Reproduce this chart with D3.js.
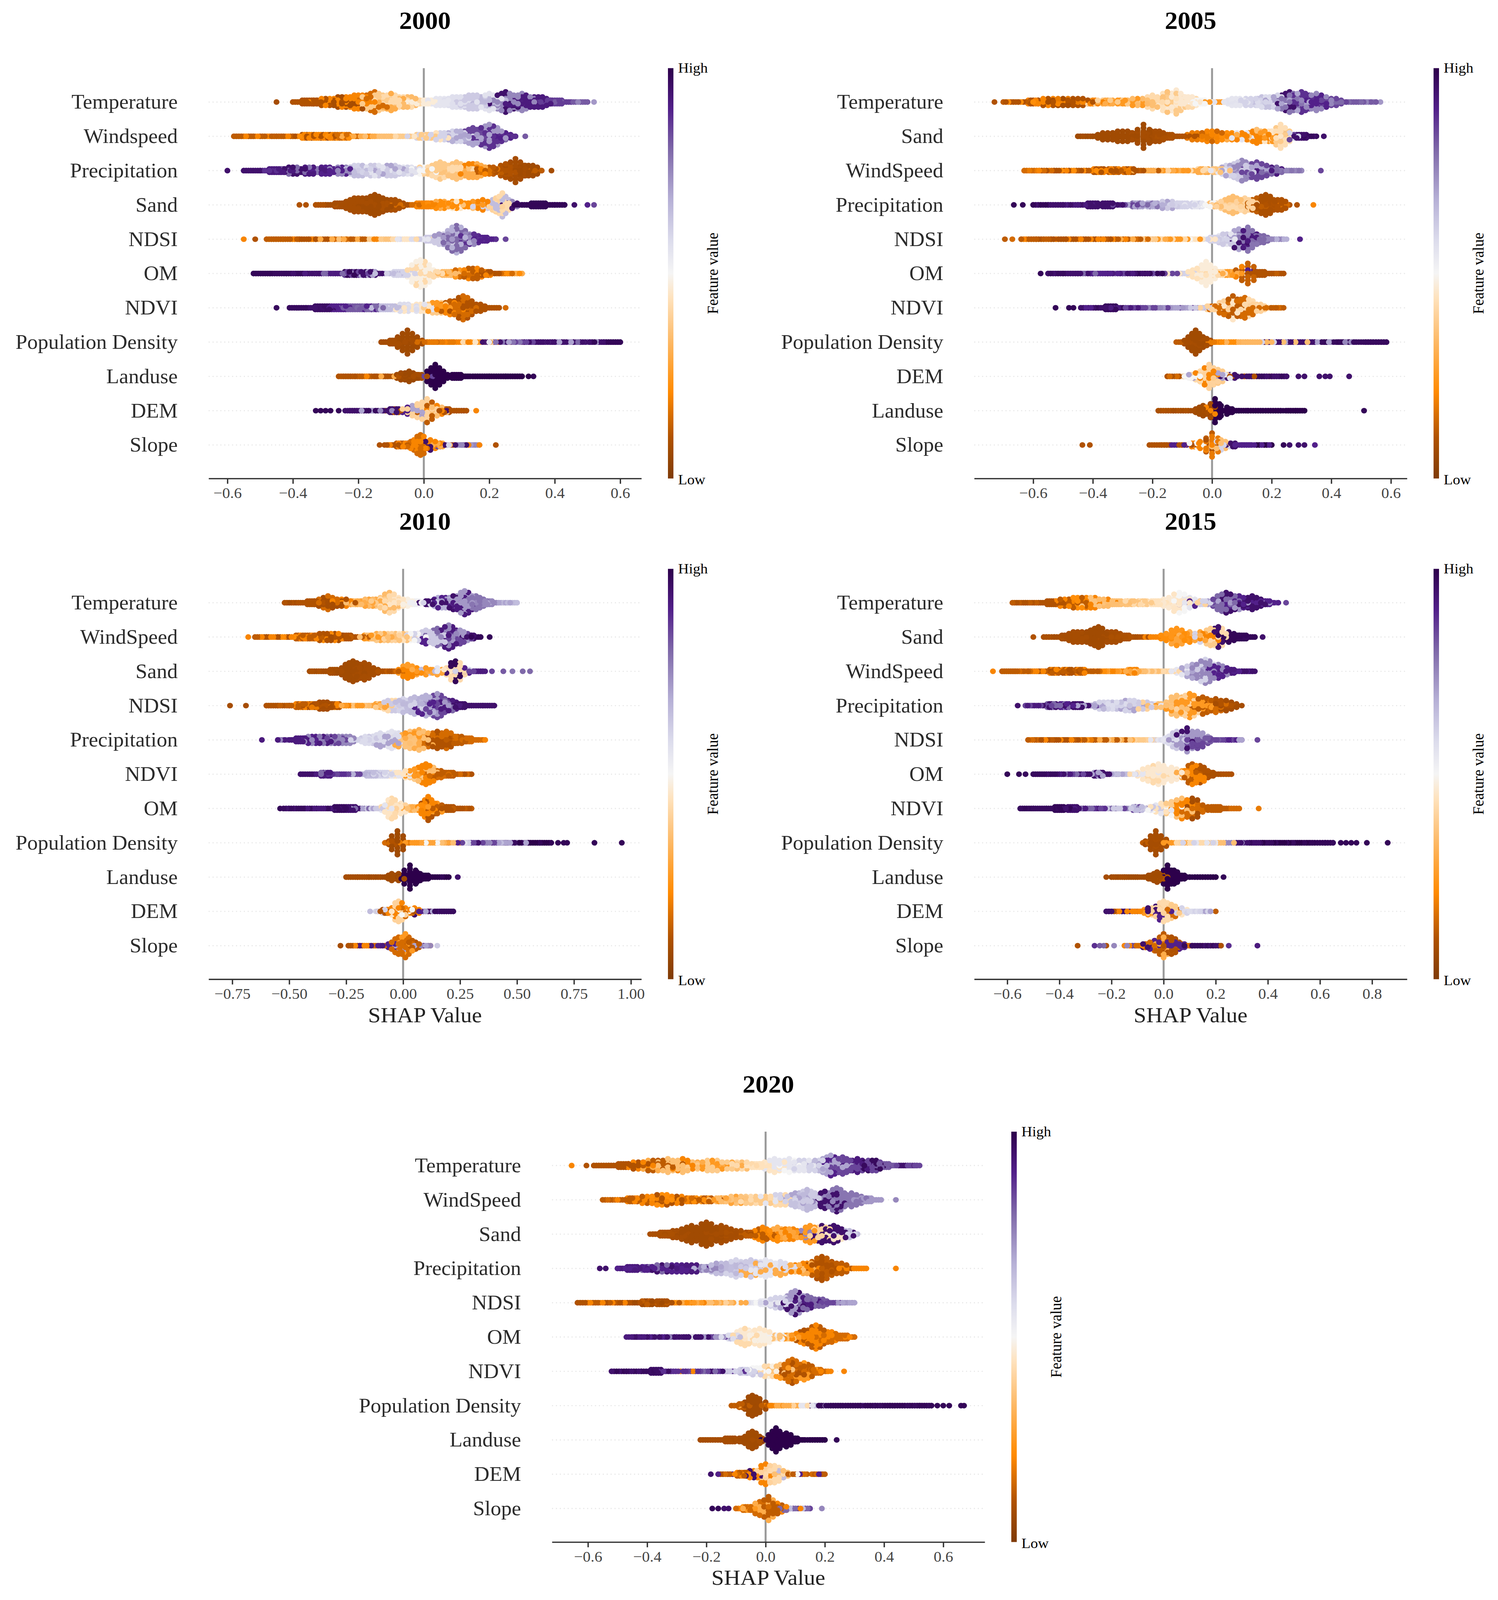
<!DOCTYPE html>
<html>
<head>
  <meta charset="utf-8">
  <title>SHAP summary plots 2000-2020</title>
  <script src="https://d3js.org/d3.v7.min.js"></script>
  <style>
    html, body { margin: 0; height: 100%; background: #fff; overflow: hidden; }
    svg { display: block; width: 100vw; height: 100vh; }
    text { font-family: "Liberation Serif", serif; }
  </style>
</head>
<body>
  <svg id="chart" viewBox="0 0 3835 4250" preserveAspectRatio="none"></svg>
  <script>
// feature order in each year
const labels2000 = ["Temperature", "Windspeed", "Precipitation", "Sand", "NDSI", "OM", "NDVI", "Population Density", "Landuse", "DEM", "Slope"];
const labels2005 = ["Temperature", "Sand", "WindSpeed", "Precipitation", "NDSI", "OM", "NDVI", "Population Density", "DEM", "Landuse", "Slope"];
const labels2010 = ["Temperature", "WindSpeed", "Sand", "NDSI", "Precipitation", "NDVI", "OM", "Population Density", "Landuse", "DEM", "Slope"];
const labels2015 = ["Temperature", "Sand", "WindSpeed", "Precipitation", "NDSI", "OM", "NDVI", "Population Density", "Landuse", "DEM", "Slope"];
const labels2020 = ["Temperature", "WindSpeed", "Sand", "Precipitation", "NDSI", "OM", "NDVI", "Population Density", "Landuse", "DEM", "Slope"];

// swarm rows: [shap, stack height in dots (0 = lone point), feature value, optional second feature value]
const swarm2000 = [
  [[-.45,0,.08],[-.4,1,.1],[-.35,2,.1],[-.3,3,.1,.2],[-.25,4,.08,.2],[-.2,5,.2,.08],[-.15,7,.38,.15],[-.1,6,.42,.3],[-.05,4,.34,.42],[0,2,.47],[.05,3,.55],[.1,4,.57],[.15,5,.62],[.2,6,.66,.56],[.25,7,.75,.95],[.3,6,.92,.75],[.35,4,.92],[.4,2,.86],[.45,1,.82],[.5,1,.75],[.52,0,.72]],
  [[-.58,1,.1],[-.55,1,.12],[-.5,1,.12,.2],[-.45,1,.12,.2],[-.4,1,.22,.1],[-.35,2,.2,.1],[-.3,2,.2,.1],[-.25,2,.15,.22],[-.2,1,.3,.2],[-.15,1,.35],[-.1,1,.38,.42],[-.05,1,.38,.45],[0,2,.38,.6],[.05,3,.6,.44],[.1,4,.68,.6],[.15,6,.7,.85],[.2,8,.88,.72],[.25,3,.9,.8],[.28,1,.88],[.31,0,.82]],
  [[-.6,0,.95],[-.55,1,.95],[-.5,1,.88],[-.45,2,.92],[-.4,3,.95,.8],[-.35,3,.92,.78],[-.3,3,.9],[-.25,3,.75,.9],[-.2,4,.65,.6],[-.15,4,.62,.56],[-.1,4,.62,.7],[-.05,3,.56,.6],[0,3,.5,.4],[.05,6,.38,.42],[.1,6,.36,.42],[.15,5,.3,.2],[.2,3,.12,.16],[.25,5,.1],[.28,8,.08],[.32,4,.07],[.36,1,.12],[.39,0,.08]],
  [[-.38,0,.1],[-.36,0,.1],[-.33,1,.1],[-.3,1,.1],[-.25,2,.08],[-.2,5,.08],[-.15,7,.07],[-.1,4,.09],[-.05,1,.15],[0,2,.2],[.05,3,.22,.3],[.1,3,.22,.45],[.15,3,.25,.36],[.18,4,.2,.6],[.22,5,.4,.65],[.24,8,.42,.65],[.27,3,.75,.95],[.3,1,.98],[.35,2,.98],[.4,1,.98],[.43,1,.98],[.46,0,.95],[.5,0,.9],[.52,0,.85]],
  [[-.55,0,.2],[-.515,0,.1],[-.48,1,.12],[-.43,1,.12,.2],[-.38,1,.1,.2],[-.33,1,.1,.3],[-.28,1,.15,.35],[-.23,1,.12,.3],[-.18,1,.38,.2],[-.13,1,.36,.42],[-.08,1,.45,.58],[-.03,1,.55,.42],[.02,2,.62],[.06,4,.72,.62],[.1,9,.8,.68],[.14,4,.88,.75],[.18,2,.9],[.22,1,.88],[.25,0,.85]],
  [[-.52,1,.98],[-.47,1,.97],[-.42,1,.97],[-.37,1,.95],[-.32,1,.92,.8],[-.27,1,.92,.8],[-.22,2,.98,.85],[-.17,2,.95,.7],[-.12,1,.65],[-.07,2,.6],[-.01,9,.48,.42],[.03,2,.42],[.07,2,.34],[.11,3,.15,.25],[.15,4,.12,.2],[.19,2,.1,.2],[.23,1,.15],[.27,1,.22],[.3,1,.3]],
  [[-.45,0,.97],[-.41,1,.97],[-.36,1,.95],[-.31,2,.96],[-.26,2,.9],[-.21,2,.82],[-.16,2,.8,.9],[-.11,2,.65],[-.06,3,.58,.45],[-.01,3,.45,.56],[.04,4,.38,.25],[.08,5,.2,.12],[.12,8,.15,.1],[.16,3,.1],[.2,1,.1],[.23,1,.1],[.25,0,.15]],
  [[-.13,1,.08],[-.09,2,.08],[-.05,8,.07],[-.02,3,.08],[.01,1,.15],[.05,1,.18],[.1,1,.2],[.15,1,.22,.42],[.18,1,.45,.25],[.22,1,.95,.55],[.26,1,.78,.25],[.3,1,.85,.7],[.35,1,.95],[.4,1,.95,.7],[.45,1,.95,.8],[.5,1,.95,.72],[.55,1,.98],[.6,1,.97]],
  [[-.26,1,.1],[-.21,1,.12,.2],[-.16,1,.1],[-.11,1,.1,.3],[-.07,3,.07],[-.045,4,.06],[-.015,2,.08],[.01,1,.85],[.035,8,1],[.06,3,1],[.1,2,1],[.15,1,1],[.2,1,1],[.25,1,1],[.3,1,1],[.32,0,1],[.335,0,.98]],
  [[-.33,0,.98],[-.315,0,.98],[-.3,0,.98],[-.285,0,.98],[-.26,0,.98],[-.24,1,.95],[-.19,1,.97,.7],[-.14,1,.95,.75],[-.09,2,.95,.1],[-.05,3,.9,.4],[-.02,5,.4,.7],[.01,8,.4,.12],[.04,4,.35,.2],[.07,2,.1],[.1,1,.1,.95],[.13,1,.1],[.16,0,.2]],
  [[-.135,0,.1],[-.12,1,.1],[-.07,2,.12,.2],[-.03,4,.15,.2],[-.01,7,.15,.2],[.02,4,.2,.95],[.05,2,.3,.85],[.09,1,.95,.6],[.13,1,.75,.2],[.17,1,.72],[.22,0,.1]]
];
const swarm2005 = [
  [[-.73,0,.1],[-.7,1,.1],[-.65,1,.12,.22],[-.6,2,.1,.2],[-.55,3,.1,.2],[-.5,3,.08,.18],[-.45,3,.1],[-.4,2,.2,.4],[-.35,2,.3,.38],[-.3,2,.25,.38],[-.25,3,.34,.25],[-.2,5,.42,.35],[-.15,7,.44,.36],[-.12,8,.46,.38],[-.08,4,.46,.42],[-.04,2,.5],[0,1,.25],[.04,1,.56],[.08,3,.55],[.13,3,.6],[.18,4,.64,.58],[.22,5,.7,.6],[.26,7,.78,.95],[.3,7,.88,.7],[.35,6,.9,.75],[.4,3,.85],[.45,1,.8],[.5,1,.82],[.55,1,.75],[.565,0,.72]],
  [[-.45,1,.08],[-.4,1,.07],[-.35,3,.07],[-.3,4,.07],[-.25,4,.08],[-.23,8,.07],[-.19,4,.08],[-.15,2,.09],[-.1,1,.1],[-.085,0,.15],[-.05,3,.18],[0,4,.2,.14],[.05,3,.22,.3],[.1,3,.2,.55],[.15,5,.2,.35],[.19,4,.25,.45],[.23,8,.43,.38],[.26,3,.85,.6],[.3,2,.95],[.35,1,.97],[.375,0,.95]],
  [[-.63,1,.18],[-.58,1,.15],[-.53,1,.1,.2],[-.48,1,.1,.22],[-.43,1,.12,.22],[-.38,2,.1,.2],[-.33,2,.12,.2],[-.28,2,.1,.18],[-.23,1,.12,.3],[-.18,1,.3,.4],[-.13,1,.25,.4],[-.08,1,.3,.42],[-.03,2,.3,.42],[.02,2,.36,.55],[.06,4,.6,.7],[.1,7,.62,.75],[.15,6,.85,.7],[.2,3,.8,.92],[.25,1,.78],[.3,1,.75],[.365,0,.85]],
  [[-.665,0,.98],[-.635,0,.98],[-.6,1,.98],[-.55,1,.95],[-.5,1,.95],[-.45,1,.92],[-.4,2,.95],[-.35,2,.95],[-.3,1,.85],[-.25,2,.7,.8],[-.2,2,.68,.78],[-.15,3,.62,.7],[-.1,2,.6],[-.05,2,.55,.6],[0,2,.5,.35],[.03,3,.4],[.07,6,.35,.42],[.11,5,.4],[.15,5,.12],[.18,7,.09],[.22,4,.1],[.26,1,.15],[.285,0,.1],[.34,0,.2]],
  [[-.695,0,.12],[-.67,0,.15],[-.64,1,.12],[-.59,1,.12,.2],[-.54,1,.1,.15],[-.49,1,.1,.2],[-.44,1,.1,.2],[-.39,1,.1,.2],[-.34,1,.12,.2],[-.29,1,.12,.3],[-.24,1,.15,.38],[-.19,1,.25,.4],[-.14,1,.3,.42],[-.09,1,.25,.44],[-.04,1,.45,.5],[.01,2,.6],[.05,4,.62,.55],[.09,7,.7,.95],[.12,8,.78,.92],[.16,3,.8],[.2,1,.75],[.25,1,.68],[.295,0,.9]],
  [[-.575,0,.98],[-.55,1,.97],[-.5,1,.95],[-.45,1,.95],[-.4,1,.9,.8],[-.35,1,.9],[-.3,1,.92,.8],[-.25,1,.95,.85],[-.2,1,.98],[-.15,1,.85,.7],[-.1,1,.6,.45],[-.05,4,.44],[-.02,8,.47],[.02,2,.42],[.06,2,.25,.3],[.1,5,.12,.2],[.12,7,.13,.9],[.16,2,.1],[.2,1,.1],[.24,1,.12]],
  [[-.525,0,.98],[-.48,0,.98],[-.465,0,.98],[-.44,1,.9],[-.39,1,.95],[-.34,2,.97],[-.29,1,.92],[-.24,1,.85],[-.19,1,.85,.75],[-.14,1,.72],[-.09,1,.7,.85],[-.04,1,.62],[0,2,.4,.15],[.04,5,.15,.4],[.07,8,.12,.45],[.11,7,.15,.42],[.15,3,.4],[.19,1,.15],[.24,1,.12]],
  [[-.12,1,.12],[-.08,3,.08],[-.055,8,.07],[-.03,4,.08],[0,1,.18],[.04,1,.22],[.08,1,.32],[.12,1,.33],[.16,1,.33],[.19,0,.95],[.2,1,.95,.6],[.24,1,.95,.7],[.28,1,.95,.35],[.32,1,.95,.6],[.36,1,.98,.7],[.4,1,.97],[.44,1,.98],[.46,1,.75],[.5,1,.97],[.55,1,.97],[.585,1,.97]],
  [[-.15,1,.1],[-.11,1,.15,.5],[-.07,2,.5,.7],[-.04,4,.42,.2],[-.01,8,.4,.2],[.02,5,.38,.7],[.06,2,.55,.95],[.1,1,.95,.1],[.15,1,.95,.1],[.2,1,.97],[.25,1,.95],[.29,0,.95],[.31,0,.95],[.36,0,.95],[.38,0,.95],[.395,0,.95],[.46,0,.95]],
  [[-.18,1,.1],[-.13,1,.09],[-.08,1,.08],[-.03,4,.07],[-.005,5,.08,.2],[.01,8,1],[.03,4,1],[.06,2,1],[.09,1,1],[.12,0,1],[.13,1,1],[.18,1,1],[.23,1,1],[.28,1,1],[.31,1,1],[.51,0,.98]],
  [[-.435,0,.1],[-.41,0,.1],[-.21,1,.1],[-.17,0,.1],[-.14,0,.1],[-.11,1,.9,.1],[-.06,2,.2,.5],[-.02,4,.2,.1],[0,8,.18,.12],[.03,4,.35,.6],[.07,2,.95,.6],[.1,1,.9],[.15,1,.9],[.2,1,1],[.24,0,.98],[.26,0,.95],[.29,0,.95],[.31,0,.95],[.345,0,.9]]
];
const swarm2010 = [
  [[-.52,1,.08],[-.46,1,.1],[-.4,2,.1],[-.33,5,.08,.15],[-.27,3,.1,.2],[-.21,2,.3,.35],[-.15,3,.34,.28],[-.1,4,.38,.3],[-.06,7,.42,.34],[-.02,4,.45],[.02,3,.48],[.06,2,.52],[.12,2,.95,.6],[.17,4,.68,.9],[.22,5,.72,.95],[.27,8,.72,.92],[.32,5,.78],[.37,2,.75],[.42,1,.7],[.47,1,.66],[.5,1,.65]],
  [[-.68,0,.2],[-.65,1,.12],[-.6,1,.12,.2],[-.55,1,.1,.2],[-.5,1,.12,.22],[-.45,2,.12,.2],[-.4,2,.12,.2],[-.35,3,.1,.22],[-.3,3,.08,.2],[-.25,2,.1],[-.2,1,.12],[-.15,2,.35,.25],[-.1,3,.38,.3],[-.05,3,.4,.35],[0,3,.44,.36],[.05,3,.5,.6],[.1,5,.62,.9],[.15,6,.62,.8],[.2,8,.92,.75],[.25,5,.85,.72],[.3,2,.95],[.34,1,.98],[.38,0,.98]],
  [[-.41,1,.08],[-.36,1,.09],[-.31,2,.08],[-.27,3,.07],[-.22,7,.07],[-.17,6,.08],[-.13,3,.08],[-.09,1,.1],[-.05,1,.12],[-.02,1,.15],[.02,5,.2,.26],[.06,3,.22,.3],[.1,3,.25,.65],[.15,3,.28,.55],[.19,2,.45,.95],[.23,7,.42,.98],[.27,3,.9,.6],[.31,1,.85],[.36,1,.92],[.39,0,.85],[.44,0,.82],[.48,0,.78],[.525,0,.8],[.557,0,.8]],
  [[-.76,0,.08],[-.69,0,.08],[-.6,1,.1],[-.55,1,.1],[-.5,1,.12,.2],[-.45,2,.12,.2],[-.4,2,.1,.18],[-.35,3,.08],[-.3,2,.1,.2],[-.25,1,.2,.3],[-.2,1,.25,.36],[-.15,1,.34,.25],[-.1,2,.38,.28],[-.05,4,.62,.42],[0,5,.65,.6],[.05,6,.66,.6],[.1,7,.68,.9],[.15,8,.85,.72],[.2,4,.92,.8],[.25,2,.95],[.3,1,.95],[.35,1,.95],[.4,1,.95]],
  [[-.62,0,.92],[-.55,1,.75],[-.5,1,.92],[-.45,2,.92],[-.4,3,.9,.75],[-.35,3,.92,.78],[-.3,3,.85,.75],[-.25,3,.75],[-.2,1,.6],[-.15,3,.58,.62],[-.1,5,.58,.7],[-.05,6,.56,.7],[-.02,5,.58,.3],[.03,6,.36,.25],[.07,7,.35,.3],[.11,5,.3,.15],[.15,6,.1,.15],[.19,6,.1,.15],[.24,3,.12],[.29,2,.15],[.33,1,.15],[.36,1,.2]],
  [[-.45,1,.95],[-.4,1,.95,.8],[-.34,2,.92,.8],[-.29,1,.88],[-.24,1,.85],[-.19,1,.68],[-.14,2,.65],[-.09,2,.6],[-.04,2,.45,.55],[.01,3,.44,.55],[.05,4,.25,.38],[.1,7,.2,.35],[.15,3,.15,.12],[.2,2,.12],[.25,1,.15],[.3,1,.1]],
  [[-.54,0,.98],[-.525,1,.95],[-.5,0,.98],[-.48,1,.97],[-.43,1,.97],[-.38,1,.93,.8],[-.33,1,.93],[-.28,2,.97],[-.23,2,.95],[-.18,1,.8,.7],[-.12,1,.62],[-.08,3,.55,.42],[-.05,7,.42,.45],[-.01,4,.45,.4],[.04,2,.35,.3],[.08,3,.22],[.11,8,.2,.1],[.15,4,.12,.25],[.2,2,.1],[.25,1,.12],[.3,1,.1]],
  [[-.08,1,.15],[-.05,2,.1],[-.025,8,.07],[0,1,.18],[.05,1,.25],[.1,1,.28],[.15,1,.32,.5],[.2,1,.35,.28],[.25,1,.55,.9],[.3,1,.85,.6],[.35,1,.75,.95],[.4,1,.85,.65],[.45,1,.7,.95],[.5,1,.97,.7],[.55,1,1],[.6,1,1],[.65,1,.98],[.68,0,.98],[.705,0,.98],[.72,0,.98],[.84,0,.98],[.96,0,.98]],
  [[-.25,1,.08],[-.2,1,.08],[-.15,1,.08],[-.1,1,.07],[-.05,3,.07],[-.02,3,.07],[.005,2,1],[.03,8,1],[.06,4,1],[.1,2,1],[.15,1,1],[.2,1,.98],[.24,0,.95]],
  [[-.145,0,.65],[-.12,1,.6,.1],[-.08,2,.1,.6],[-.05,3,.2,.45],[-.02,7,.4,.2],[.01,4,.5,.15],[.05,3,.2,.95],[.09,1,.9,.1],[.13,1,.7,.95],[.18,1,.97],[.22,1,.97]],
  [[-.275,0,.08],[-.24,1,.1],[-.19,1,.1,.2],[-.14,1,.92,.2],[-.09,1,.15,.9],[-.05,3,.9,.15],[-.02,6,.15,.7],[.01,8,.15,.25],[.04,4,.12,.1],[.08,1,.12,.7],[.12,1,.75,.9],[.15,0,.62]]
];
const swarm2015 = [
  [[-.58,1,.1],[-.53,1,.12],[-.48,1,.1],[-.43,2,.1],[-.38,3,.12,.2],[-.33,4,.22,.12],[-.28,4,.2,.36],[-.23,3,.34,.2],[-.18,2,.35],[-.13,2,.36,.42],[-.08,2,.38,.42],[-.03,2,.44],[.02,4,.46],[.06,7,.45,.5],[.1,4,.55,.9],[.15,2,.6,.4],[.19,3,.85,.7],[.24,7,.8,.95],[.29,5,.9,.72],[.34,5,.95],[.39,2,.9],[.44,1,.75],[.47,0,.85]],
  [[-.5,0,.1],[-.46,1,.1],[-.42,1,.09],[-.38,2,.08],[-.33,4,.08],[-.28,5,.07],[-.25,7,.07],[-.2,4,.08],[-.15,2,.09],[-.1,1,.1],[-.08,0,.15],[-.03,1,.2],[.01,3,.22],[.05,6,.24,.28],[.1,4,.22,.32],[.14,4,.28,.6],[.18,6,.38,.2],[.21,7,.42,.95],[.25,4,.98],[.3,2,.98],[.35,1,.97],[.38,0,.95]],
  [[-.655,0,.2],[-.62,1,.12],[-.57,1,.12],[-.52,1,.15,.2],[-.47,1,.1,.2],[-.42,2,.12,.2],[-.37,2,.1,.2],[-.32,2,.12,.2],[-.27,1,.12,.22],[-.22,1,.25,.15],[-.17,1,.2,.28],[-.12,2,.2,.3],[-.07,1,.35],[-.02,1,.4],[.03,1,.42],[.07,3,.55,.7],[.11,5,.62,.7],[.16,8,.75,.6],[.21,5,.9,.75],[.26,2,.92],[.3,1,.9],[.35,1,.95]],
  [[-.56,0,.95],[-.53,1,.92],[-.48,1,.85],[-.43,2,.95,.8],[-.38,2,.9,.8],[-.33,2,.95],[-.28,1,.7,.85],[-.23,3,.6,.66],[-.18,3,.58,.64],[-.13,4,.6,.7],[-.08,3,.62,.4],[-.03,2,.55,.35],[.01,3,.36,.25],[.05,7,.35,.25],[.1,8,.25,.4],[.15,6,.12,.25],[.2,5,.15,.1],[.24,4,.08],[.28,1,.1],[.3,0,.08]],
  [[-.52,1,.15],[-.47,1,.12,.2],[-.42,1,.1],[-.37,1,.1,.2],[-.32,1,.12,.18],[-.27,1,.12,.25],[-.22,1,.3,.12],[-.17,1,.36,.12],[-.12,1,.38,.3],[-.07,1,.4],[-.02,1,.55,.6],[.02,3,.58],[.05,6,.62,.72],[.09,8,.72,.95],[.13,6,.85,.72],[.17,2,.82],[.22,1,.85],[.27,1,.9],[.3,1,.7],[.36,0,.85]],
  [[-.6,0,.98],[-.555,0,.98],[-.53,0,.97],[-.5,1,.97],[-.45,1,.97],[-.4,1,.95],[-.35,1,.92,.8],[-.3,1,.95,.85],[-.25,2,.95,.7],[-.2,1,.95,.7],[-.15,1,.65,.55],[-.1,1,.55,.42],[-.06,5,.45,.55],[-.02,7,.46,.42],[.03,5,.46],[.07,3,.3],[.11,7,.12,.2],[.14,6,.1,.2],[.18,2,.09],[.22,1,.09],[.26,1,.1]],
  [[-.55,1,.98],[-.5,1,.97],[-.45,1,.97],[-.4,2,.98],[-.35,2,.95],[-.3,1,.92,.8],[-.25,1,.88,.8],[-.2,1,.85,.62],[-.15,1,.62,.75],[-.1,2,.65,.85],[-.05,2,.62,.5],[-.01,4,.44,.55],[.03,5,.38,.5],[.07,7,.2,.35],[.11,7,.15,.08],[.15,3,.12],[.2,2,.12],[.25,1,.12],[.29,1,.15],[.365,0,.18]],
  [[-.08,1,.12],[-.05,3,.08],[-.03,8,.08],[-.01,5,.09],[.01,1,.25],[.05,1,.3],[.1,1,.42,.6],[.15,1,.55,.42],[.2,1,.36,.6],[.24,1,.35,.55],[.28,1,.75],[.33,1,.95],[.38,1,.97],[.43,1,1],[.48,1,.97],[.53,1,1],[.58,1,.98],[.62,1,.98],[.65,1,.97],[.68,0,.98],[.7,0,.98],[.72,0,.98],[.74,0,.98],[.78,0,.98],[.86,0,.98]],
  [[-.22,0,.08],[-.2,1,.08],[-.15,1,.07],[-.1,1,.07],[-.05,2,.07],[-.025,4,.07],[0,2,.1],[.015,8,1],[.04,5,1],[.07,2,1],[.11,1,1],[.16,1,1],[.2,1,1],[.23,0,.98]],
  [[-.22,1,.95],[-.18,1,.95,.1],[-.14,1,.95,.2],[-.1,1,.2,.9],[-.06,3,.25,.95],[-.03,4,.4,.95],[0,7,.42,.9],[.03,5,.38,.15],[.07,3,.45,.6],[.11,1,.58],[.15,1,.6],[.18,1,.7],[.2,0,.12]],
  [[-.33,0,.1],[-.265,0,.88],[-.245,0,.82],[-.23,0,.8],[-.22,0,.1],[-.19,0,.75],[-.15,1,.75],[-.11,1,.2,.85],[-.07,2,.95,.15],[-.035,4,.15,.9],[0,8,.12,.3],[.03,6,.1,.9],[.07,2,.9,.12],[.11,1,.97,.15],[.15,1,.97],[.19,1,.95],[.22,1,.1],[.25,0,.88],[.36,0,.92]]
];
const swarm2020 = [
  [[-.655,0,.2],[-.605,0,.1],[-.58,1,.1],[-.53,1,.1],[-.48,2,.1],[-.43,3,.1,.2],[-.38,4,.12,.3],[-.33,5,.35,.12],[-.28,5,.35,.2],[-.23,3,.3,.38],[-.18,4,.38,.25],[-.13,3,.38,.3],[-.08,3,.42,.35],[-.03,2,.44],[.03,5,.45,.55],[.08,5,.55,.5],[.13,4,.6,.55],[.18,4,.66,.6],[.22,7,.7,.9],[.26,6,.85,.7],[.31,5,.92,.85],[.36,4,.97,.85],[.4,2,.82],[.45,1,.85],[.48,1,.95],[.52,1,.85]],
  [[-.55,1,.15],[-.5,1,.12],[-.45,2,.12,.2],[-.4,3,.2,.12],[-.35,4,.22,.1],[-.3,3,.2,.1],[-.25,2,.15,.22],[-.2,2,.12,.25],[-.15,2,.34,.25],[-.1,3,.36,.28],[-.05,3,.38,.42],[0,3,.38,.55],[.05,4,.42,.6],[.1,5,.64,.7],[.14,7,.62,.66],[.2,6,.95,.75],[.24,8,.78,.95],[.29,5,.78],[.34,2,.72],[.39,1,.72],[.44,0,.75]],
  [[-.39,1,.09],[-.34,2,.09],[-.3,3,.08],[-.25,6,.07],[-.2,8,.07],[-.15,6,.08],[-.1,3,.09],[-.05,2,.12],[-.01,5,.2,.12],[.04,5,.22,.3],[.08,4,.2,.28],[.12,3,.25,.1],[.15,6,.25,.75],[.19,6,.4,.95],[.23,6,.95,.45],[.27,3,.65,.95],[.31,1,.6]],
  [[-.56,0,.95],[-.54,0,.95],[-.5,1,.9],[-.45,2,.92],[-.4,2,.9,.8],[-.35,3,.95,.8],[-.3,3,.9],[-.25,3,.92],[-.2,2,.75,.68],[-.15,4,.65,.7],[-.1,6,.66,.6],[-.05,6,.62,.3],[0,6,.55,.3],[.05,5,.58,.3],[.1,3,.35,.2],[.14,4,.2,.3],[.19,8,.1,.12],[.24,4,.12],[.29,1,.2],[.34,1,.2],[.44,0,.2]],
  [[-.635,1,.1],[-.6,1,.1],[-.55,1,.12,.2],[-.5,1,.1,.2],[-.45,1,.1],[-.4,2,.07,.12],[-.35,2,.09],[-.3,1,.12,.22],[-.25,1,.25,.3],[-.2,1,.3,.2],[-.15,1,.35,.25],[-.1,1,.3,.4],[-.05,1,.5,.58],[0,2,.55],[.05,4,.6,.7],[.1,8,.72,.95],[.14,5,.8,.92],[.18,3,.82],[.22,1,.85],[.26,1,.72],[.3,1,.7]],
  [[-.47,1,.92],[-.435,0,.95],[-.4,1,.95],[-.35,1,.9,.75],[-.3,1,.95],[-.26,1,.95,.55],[-.21,1,.95],[-.16,1,.72,.85],[-.11,2,.58,.65],[-.07,6,.42,.46],[-.02,6,.48,.45],[.04,2,.52,.36],[.08,2,.35,.25],[.13,5,.2,.1],[.17,8,.2,.12],[.21,4,.15,.2],[.26,2,.15],[.3,1,.2]],
  [[-.52,1,.98],[-.47,1,.95],[-.42,1,.97],[-.37,2,.96],[-.32,1,.88],[-.27,1,.88,.2],[-.22,1,.85],[-.17,1,.8,.95],[-.12,1,.62,.88],[-.07,2,.6,.65],[-.03,3,.5,.62],[.01,4,.42,.48],[.05,5,.36,.25],[.09,8,.15,.1],[.13,6,.12,.25],[.17,2,.15],[.22,1,.2],[.265,0,.2]],
  [[-.115,1,.28],[-.08,2,.12],[-.045,7,.07],[-.02,5,.07],[0,1,.12],[.03,1,.2],[.07,1,.3],[.11,1,.4],[.15,1,.55,.42],[.18,1,.65,.95],[.22,1,.98],[.27,1,.98],[.32,1,.98],[.37,1,.97,.88],[.42,1,.98],[.47,1,.98],[.52,1,.97],[.56,1,.98],[.58,0,.98],[.6,0,.98],[.62,0,.98],[.66,0,.98],[.67,0,.98]],
  [[-.22,1,.08],[-.17,1,.08],[-.12,2,.08],[-.08,2,.07],[-.045,6,.07],[-.02,2,.08],[-.005,0,.1],[.01,1,1],[.035,8,1],[.07,5,1],[.1,2,1],[.15,1,1],[.2,1,1],[.24,0,.98]],
  [[-.185,0,.95],[-.16,1,.1],[-.12,1,.9,.15],[-.08,2,.12,.2],[-.04,3,.2,.95],[0,7,.4,.2],[.03,6,.42,.65],[.06,3,.35],[.1,1,.12,.9],[.14,1,.15,.5],[.18,1,.9,.12],[.2,1,.1]],
  [[-.18,0,.98],[-.16,0,.98],[-.14,0,.95],[-.125,0,.95],[-.1,1,.2,.3],[-.06,2,.15,.25],[-.02,5,.15,.3],[.01,8,.12,.3],[.04,4,.12,.2],[.07,2,.8,.5],[.11,1,.85,.65],[.15,1,.8,.2],[.19,0,.75]]
];

// axis ticks
const ticks2000 = [-.6, -.4, -.2, 0, .2, .4, .6];
const ticks2005 = [-.6, -.4, -.2, 0, .2, .4, .6];
const ticks2010 = [-.75, -.5, -.25, 0, .25, .5, .75, 1];
const ticks2015 = [-.6, -.4, -.2, 0, .2, .4, .6, .8];
const ticks2020 = [-.6, -.4, -.2, 0, .2, .4, .6];

// colour bar, low to high
const cmapStops = [0, .1, .21, .34, .44, .5, .58, .68, .8, .9, 1];
const cmapColors = ["#7f3b08", "#b05200", "#ff8a00", "#fdbb6a", "#fee2bd", "#f5f5f5", "#dcdcec", "#b6b0d6", "#7f69a9", "#52208a", "#2d004b"];
const color = d3.scaleLinear().domain(cmapStops).range(cmapColors);

const plotW = 1108, plotH = 1090;
const dotR = 7.5, dotGapY = 9, maxKernel = 44;

const svg = d3.select("#chart");

const defs = svg.append("defs");
const grad = defs.append("linearGradient").attr("id", "cbar")
  .attr("x1", 0).attr("x2", 0).attr("y1", 1).attr("y2", 0);
grad.selectAll("stop").data(cmapStops).join("stop")
  .attr("offset", d => d)
  .attr("stop-color", d => color(d));

// one bin of the swarm becomes a small lens of dots around its x
function binDots(row, x) {
  const clusters = row.filter(d => d[1] > 0);
  const xMin = x(clusters[0][0]), xMax = x(clusters[clusters.length - 1][0]);
  const dots = [];
  let seq = 0;
  row.forEach(d => {
    const [v, n, c1, c2] = d;
    const cx = x(v);
    if (n === 0) {
      dots.push({ dx: cx, dy: 0, c: c1 });
      return;
    }
    const gaps = clusters.filter(o => o !== d).map(o => Math.abs(x(o[0]) - cx));
    const w = Math.min(d3.min(gaps), maxKernel);
    const gapX = n <= 2 ? 6 : 11; // thin stretches of a row read as a solid band
    const cols = Math.max(1, Math.round(w / gapX));
    for (let j = -cols; j <= cols; j++) {
      const dx = cx + j * w / cols;
      if (dx < xMin - 0.5 || dx > xMax + 0.5) continue; // no dots past the ends of the row
      const t = Math.abs(j) / (cols + 1);
      const k = Math.max(1, Math.round(n * (1 - Math.pow(t, 1.5))));
      for (let i = 0; i < k; i++) {
        seq++;
        const second = c2 !== undefined && (Math.imul(seq, 40503) >>> 4) % 3 === 0;
        dots.push({
          dx,
          dy: (i - (k - 1) / 2) * dotGapY,
          c: second ? c2 : c1
        });
      }
    }
  });
  // fixed scramble of the draw order so neighbouring colours overlap
  dots.forEach((d, i) => { d.order = Math.imul(i + 1, 2654435761) >>> 0; });
  return dots.sort((a, b) => a.order - b.order);
}

function drawPanel(p) {
  const g = svg.append("g").attr("transform", `translate(${p.left},${p.top})`);
  const x = d3.scaleLinear().domain(p.domain).range([0, plotW]);
  const y = d3.scalePoint().domain(p.labels).range([90, 1001]);

  g.append("text")
    .attr("x", plotW / 2).attr("y", -104)
    .attr("text-anchor", "middle")
    .attr("font-size", 66).attr("font-weight", "bold")
    .text(p.year);

  // dotted row guides
  g.selectAll(".guide").data(p.labels).join("line")
    .attr("x1", 0).attr("x2", plotW)
    .attr("y1", d => y(d)).attr("y2", d => y(d))
    .attr("stroke", "#e9e9e9").attr("stroke-width", 3)
    .attr("stroke-dasharray", "3 7");

  // zero line
  g.append("line")
    .attr("x1", x(0)).attr("x2", x(0))
    .attr("y1", 0).attr("y2", plotH)
    .attr("stroke", "#999").attr("stroke-width", 5);

  g.selectAll(".row").data(p.labels).join("g")
    .attr("transform", d => `translate(0,${y(d)})`)
    .each(function (d, i) {
      d3.select(this).selectAll("circle").data(binDots(p.swarm[i], x)).join("circle")
        .attr("cx", c => c.dx)
        .attr("cy", c => c.dy)
        .attr("r", dotR)
        .attr("fill", c => color(c.c));
    });

  g.selectAll(".ylab").data(p.labels).join("text")
    .attr("x", -79).attr("y", d => y(d)).attr("dy", "0.33em")
    .attr("text-anchor", "end")
    .attr("font-size", 54).attr("fill", "#2b2b2b")
    .text(d => d);

  const axis = d3.axisBottom(x).tickValues(p.ticks)
    .tickFormat(d3.format(p.fmt)).tickSize(14).tickPadding(10).tickSizeOuter(0);
  const ax = g.append("g").attr("transform", `translate(0,${plotH})`).call(axis);
  ax.selectAll("path, line").attr("stroke", "#333").attr("stroke-width", 3.5);
  ax.selectAll("text").attr("font-size", 40).attr("fill", "#444")
    .attr("font-family", "Liberation Serif, serif");

  if (p.xlabel) {
    g.append("text")
      .attr("x", plotW / 2).attr("y", plotH + 114)
      .attr("text-anchor", "middle")
      .attr("font-size", 58).attr("fill", "#222")
      .text("SHAP Value");
  }

  // colour bar
  g.append("rect")
    .attr("x", 1176).attr("y", 0).attr("width", 14).attr("height", plotH)
    .attr("fill", "url(#cbar)");
  g.append("text").attr("x", 1202).attr("y", 12).attr("font-size", 38).text("High");
  g.append("text").attr("x", 1202).attr("y", plotH + 16).attr("font-size", 38).text("Low");
  g.append("text")
    .attr("transform", `translate(1304,${plotH / 2}) rotate(-90)`)
    .attr("text-anchor", "middle")
    .attr("font-size", 40)
    .text("Feature value");
}

const panels = [
  { year: "2000", left: 534, top: 181, domain: [-.6575, .6647], labels: labels2000, swarm: swarm2000, ticks: ticks2000, fmt: ".1f", xlabel: false },
  { year: "2005", left: 2494, top: 181, domain: [-.798, .654], labels: labels2005, swarm: swarm2005, ticks: ticks2005, fmt: ".1f", xlabel: false },
  { year: "2010", left: 534, top: 1511, domain: [-.854, 1.046], labels: labels2010, swarm: swarm2010, ticks: ticks2010, fmt: ".2f", xlabel: true },
  { year: "2015", left: 2494, top: 1511, domain: [-.727, .934], labels: labels2015, swarm: swarm2015, ticks: ticks2015, fmt: ".1f", xlabel: true },
  { year: "2020", left: 1413, top: 3006, domain: [-.7216, .74], labels: labels2020, swarm: swarm2020, ticks: ticks2020, fmt: ".1f", xlabel: true }
];

panels.forEach(drawPanel);
  </script>
</body>
</html>
